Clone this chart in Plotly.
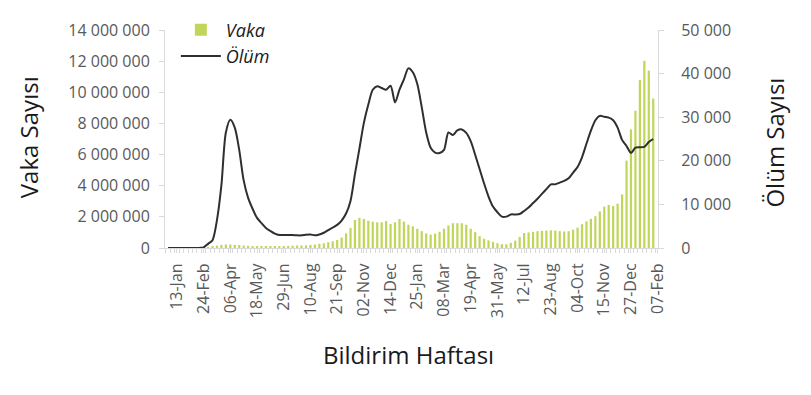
import plotly.graph_objects as go
import pandas as pd

# ---- data ----
first_week = "2019-12-30"
n_weeks = 110

vaka = [0, 0, 0, 0, 0, 0, 0, 5000, 20000,
        50000, 100000, 150000, 200000, 220000, 220000, 200000, 190000, 160000, 140000,
        120000, 110000, 110000, 120000, 120000, 130000, 130000, 130000, 140000, 150000, 160000,
        165000, 170000, 200000, 220000, 265000, 300000, 370000, 430000, 510000, 670000,
        940000, 1290000, 1800000, 1940000, 1860000, 1750000, 1690000, 1650000, 1650000, 1730000,
        1550000, 1650000, 1860000, 1690000, 1490000, 1390000, 1240000, 1080000, 940000, 860000,
        920000, 1040000, 1240000, 1450000, 1590000, 1590000, 1590000, 1490000, 1240000, 1020000,
        760000, 590000, 490000, 390000, 310000, 240000, 240000, 330000, 470000, 710000,
        960000, 1000000, 1040000, 1080000, 1100000, 1120000, 1140000, 1120000, 1080000, 1060000,
        1080000, 1170000, 1310000, 1530000, 1710000, 1870000, 2040000, 2350000, 2660000, 2760000,
        2700000, 2850000, 3440000, 5610000, 7620000, 8820000, 10780000, 12020000, 11390000, 9600000]

olum = [0, 0, 0, 0, 0, 0, 0, 20, 150,
        950, 1800, 6400, 14400, 26500, 29400, 27600, 22500, 15500, 11500,
        9000, 6900, 5700, 4600, 3900, 3300, 3000, 3000, 3000, 3000, 2900,
        2900, 3050, 3100, 2900, 3100, 3500, 4100, 4700, 5300, 6300,
        7900, 10800, 17000, 22800, 28700, 32900, 36300, 37100, 36700, 36300,
        37200, 33400, 36300, 38700, 41200, 40300, 37600, 32300, 26500, 23000,
        21900, 21800, 22500, 26500, 25900, 27000, 27200, 26400, 24500, 21400,
        18100, 14800, 11800, 9500, 8200, 7200, 7200, 7700, 7700, 7800,
        8500, 9300, 10300, 11300, 12400, 13500, 14600, 14600, 15000, 15400,
        16000, 17300, 18600, 20800, 23900, 26900, 29300, 30300, 30100, 29900,
        29300, 27600, 24800, 23400, 21800, 23000, 23100, 23200, 24300, 25000]

tick_dates = ["2020-01-13", "2020-02-24", "2020-04-06", "2020-05-18", "2020-06-29",
              "2020-08-10", "2020-09-21", "2020-11-02", "2020-12-14", "2021-01-25",
              "2021-03-08", "2021-04-19", "2021-05-31", "2021-07-12", "2021-08-23",
              "2021-10-04", "2021-11-15", "2021-12-27", "2022-02-07"]
tick_labels = ["13-Jan", "24-Feb", "06-Apr", "18-May", "29-Jun", "10-Aug", "21-Sep",
               "02-Nov", "14-Dec", "25-Jan", "08-Mar", "19-Apr", "31-May", "12-Jul",
               "23-Aug", "04-Oct", "15-Nov", "27-Dec", "07-Feb"]

weeks = pd.date_range(first_week, periods=n_weeks, freq="7D")

# ---- styling ----
FONT = "Open Sans"
TICK_COLOR = "#595959"
TITLE_COLOR = "#1a1a1a"
AXIS_COLOR = "#d9d9d9"
BAR_COLOR = "#c0d65a"
LINE_COLOR = "#2f2f2f"

fig = go.Figure()
fig.add_trace(go.Bar(x=weeks, y=vaka, name="Vaka", marker_color=BAR_COLOR,
                     marker_line_width=0, yaxis="y"))
fig.add_trace(go.Scatter(x=weeks, y=olum, name="Ölüm", mode="lines",
                         line=dict(color=LINE_COLOR, width=2, shape="spline", smoothing=0.8),
                         yaxis="y2"))

fig.update_layout(
    width=811, height=395, autosize=False,
    margin=dict(l=165, r=153, t=19, b=147, pad=0),
    paper_bgcolor="white", plot_bgcolor="white",
    separators=". ",
    bargap=0.5,
    font=dict(family=FONT, size=16, color=TICK_COLOR),
    xaxis=dict(
        type="date",
        range=["2019-12-25 07:00", "2022-02-07 12:00"],
        tickmode="array", tickvals=tick_dates, ticktext=tick_labels,
        tickangle=-90, tickfont=dict(family=FONT, size=16, color=TICK_COLOR),
        showgrid=False, zeroline=False,
        showline=True, linecolor=AXIS_COLOR, linewidth=1,
        ticks="outside", ticklen=4, tickcolor=AXIS_COLOR,
        ticklabelstandoff=4,
        minor=dict(ticks="outside", ticklen=4, tickcolor=AXIS_COLOR,
                   dtick=7 * 86400000, tick0="2019-12-26 12:00", showgrid=False),
    ),
    yaxis=dict(
        range=[0, 14000000], dtick=2000000, tickformat=",d",
        showgrid=False, zeroline=False,
        showline=True, linecolor=AXIS_COLOR, linewidth=1,
        ticks="outside", ticklen=5, tickcolor=AXIS_COLOR,
        tickfont=dict(family=FONT, size=16, color=TICK_COLOR),
        ticklabelstandoff=6,
    ),
    yaxis2=dict(
        overlaying="y", side="right",
        range=[0, 50000], dtick=10000, tickformat=",d",
        showgrid=False, zeroline=False,
        showline=True, linecolor=AXIS_COLOR, linewidth=1,
        ticks="outside", ticklen=5, tickcolor=AXIS_COLOR,
        tickfont=dict(family=FONT, size=16, color=TICK_COLOR),
        ticklabelstandoff=14,
    ),
    legend=dict(
        x=0.022, y=1.085, xanchor="left", yanchor="top",
        bgcolor="rgba(0,0,0,0)",
        font=dict(family=FONT, size=18, color=TITLE_COLOR, style="italic"),
        traceorder="normal", itemwidth=40, tracegroupgap=0,
    ),
    annotations=[
        dict(text="Vaka Sayısı", xref="paper", yref="paper", x=-0.278, y=0.508,
             textangle=-90, showarrow=False, xanchor="center", yanchor="middle",
             font=dict(family=FONT, size=24, color=TITLE_COLOR)),
        dict(text="Ölüm Sayısı", xref="paper", yref="paper", x=1.237, y=0.483,
             textangle=-90, showarrow=False, xanchor="center", yanchor="middle",
             font=dict(family=FONT, size=24, color=TITLE_COLOR)),
        dict(text="Bildirim Haftası", xref="paper", yref="paper", x=0.494, y=-0.487,
             showarrow=False, xanchor="center", yanchor="middle",
             font=dict(family=FONT, size=24, color=TITLE_COLOR)),
    ],
)

fig.write_html("out.html")
